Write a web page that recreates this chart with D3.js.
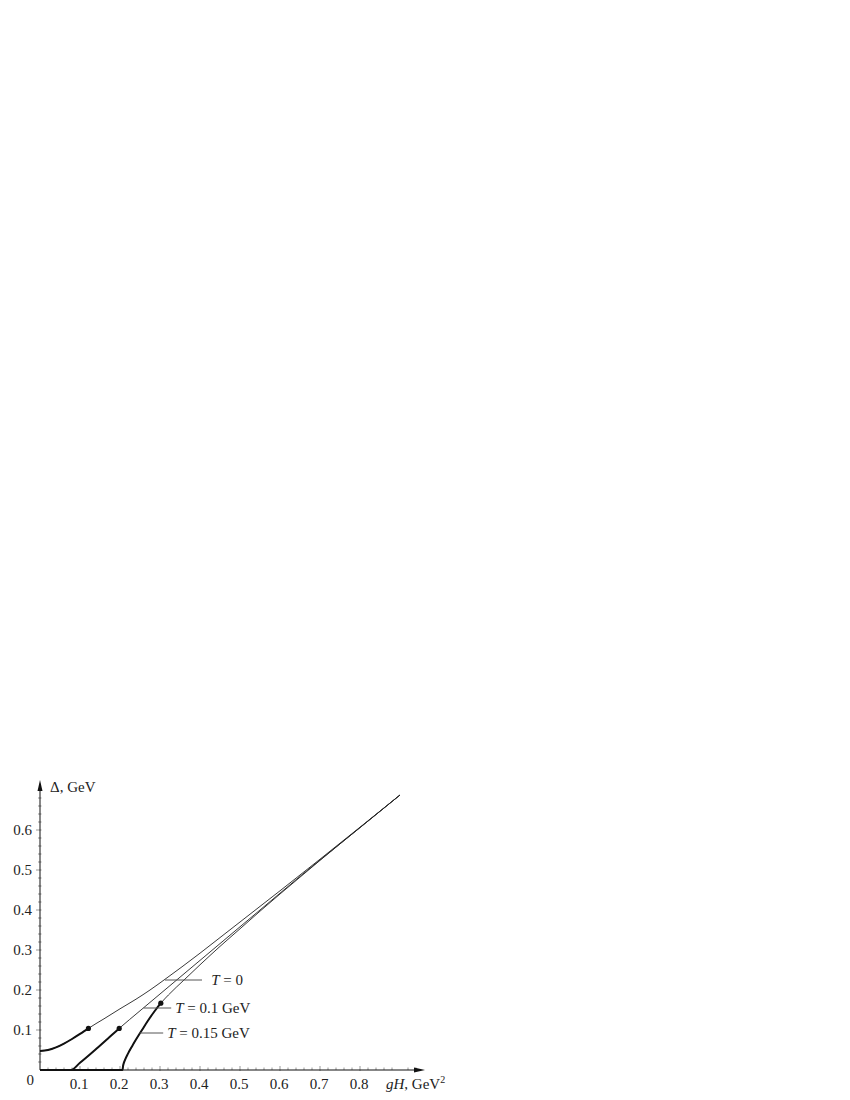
<!DOCTYPE html>
<html>
<head>
<meta charset="utf-8">
<script src="https://cdn.jsdelivr.net/npm/d3@7"></script>
<style>
  body { margin: 0; background: #fff; }
  text { font-family: "Liberation Serif", "DejaVu Serif", serif; font-size: 15px; fill: #222; }
</style>
</head>
<body>
<div id="chart"></div>
<script>
// gH in GeV^2, Delta in GeV
const gH_T0    = [0, 0.02, 0.04, 0.06, 0.08, 0.10, 0.121, 0.14, 0.16, 0.20, 0.24, 0.275, 0.31, 0.40, 0.45, 0.50, 0.55, 0.60, 0.65, 0.70, 0.80, 0.90];
const delta_T0 = [0.0475, 0.0499, 0.0565, 0.0661, 0.0775, 0.0901, 0.104, 0.116, 0.128, 0.153, 0.177, 0.200, 0.225, 0.292, 0.331, 0.370, 0.409, 0.448, 0.4875, 0.527, 0.607, 0.6875];

const gH_T01    = [0, 0.0775, 0.10, 0.1375, 0.17, 0.198, 0.25, 0.30, 0.35, 0.40, 0.45, 0.50, 0.55, 0.60, 0.65, 0.70, 0.80, 0.90];
const delta_T01 = [0, 0, 0.018, 0.050, 0.079, 0.104, 0.148, 0.190, 0.232, 0.274, 0.316, 0.358, 0.400, 0.442, 0.484, 0.525, 0.606, 0.6875];

const gH_T015    = [0, 0.206, 0.208, 0.212, 0.22, 0.23, 0.24, 0.255, 0.271, 0.285, 0.302, 0.321, 0.36, 0.40, 0.45, 0.50, 0.55, 0.60, 0.65, 0.70, 0.80, 0.90];
const delta_T015 = [0, 0, 0.012, 0.024, 0.041, 0.059, 0.076, 0.100, 0.125, 0.145, 0.167, 0.1875, 0.225, 0.263, 0.309, 0.353, 0.397, 0.440, 0.482, 0.524, 0.606, 0.6875];

// points where curves switch from bold to thin (marked by dots)
const dotGH    = [0.121, 0.198, 0.302];
const dotDelta = [0.104, 0.104, 0.167];

const xTicks = [0.1, 0.2, 0.3, 0.4, 0.5, 0.6, 0.7, 0.8];
const yTicks = [0.1, 0.2, 0.3, 0.4, 0.5, 0.6];

// labels: leader start (gH, Delta), leader end gH, text start gH
const labelValues  = [" = 0", " = 0.1 GeV", " = 0.15 GeV"];
const labelStartGH = [0.3125, 0.259, 0.249];
const labelDelta   = [0.225, 0.155, 0.0925];
const labelEndGH   = [0.405, 0.328, 0.308];
const labelTextGH  = [0.428, 0.338, 0.318];

const width = 850;
const height = 1100;

const svg = d3.select('#chart')
  .append('svg')
  .attr('width', width)
  .attr('height', height);

const x = d3.scaleLinear().domain([0, 1]).range([40, 440]);
const y = d3.scaleLinear().domain([0, 1]).range([1070, 670]);

const xMax = 0.9625;
const yMax = 0.725;

// minor ticks every 0.02
const notMajor = v => Math.abs(v * 10 - Math.round(v * 10)) > 1e-6;
const xMinor = d3.range(0.02, 0.95, 0.02).filter(notMajor);
const yMinor = d3.range(0.02, 0.71, 0.02).filter(notMajor);

svg.append('g')
  .selectAll('line')
  .data(xMinor)
  .enter()
  .append('line')
  .attr('x1', d => x(d)).attr('x2', d => x(d))
  .attr('y1', y(0) - 2.5).attr('y2', y(0))
  .attr('stroke', '#999').attr('stroke-width', 1);

svg.append('g')
  .selectAll('line')
  .data(xTicks)
  .enter()
  .append('line')
  .attr('x1', d => x(d)).attr('x2', d => x(d))
  .attr('y1', y(0) - 4).attr('y2', y(0) + 1)
  .attr('stroke', '#999').attr('stroke-width', 1);

svg.append('g')
  .selectAll('line')
  .data(yMinor)
  .enter()
  .append('line')
  .attr('x1', x(0) - 2).attr('x2', x(0) + 1.5)
  .attr('y1', d => y(d)).attr('y2', d => y(d))
  .attr('stroke', '#999').attr('stroke-width', 1);

svg.append('g')
  .selectAll('line')
  .data(yTicks)
  .enter()
  .append('line')
  .attr('x1', x(0) - 4).attr('x2', x(0) + 1.5)
  .attr('y1', d => y(d)).attr('y2', d => y(d))
  .attr('stroke', '#999').attr('stroke-width', 1);

// axis lines with arrows
svg.append('line')
  .attr('x1', x(0)).attr('x2', x(xMax) - 6)
  .attr('y1', y(0)).attr('y2', y(0))
  .attr('stroke', '#111').attr('stroke-width', 1);
svg.append('path')
  .attr('d', `M${x(xMax)},${y(0)} L${x(xMax) - 11},${y(0) - 2.5} L${x(xMax) - 11},${y(0) + 2.5} Z`)
  .attr('fill', '#111');

svg.append('line')
  .attr('x1', x(0)).attr('x2', x(0))
  .attr('y1', y(0)).attr('y2', y(yMax) + 6)
  .attr('stroke', '#111').attr('stroke-width', 1);
svg.append('path')
  .attr('d', `M${x(0)},${y(yMax)} L${x(0) - 2.5},${y(yMax) + 11} L${x(0) + 2.5},${y(yMax) + 11} Z`)
  .attr('fill', '#111');

// tick labels
svg.append('g')
  .selectAll('text')
  .data(xTicks)
  .enter()
  .append('text')
  .attr('x', d => x(d) - 1)
  .attr('y', y(0) + 19)
  .attr('text-anchor', 'middle')
  .text(d => d3.format('.1f')(d));

svg.append('g')
  .selectAll('text')
  .data(yTicks)
  .enter()
  .append('text')
  .attr('x', x(0) - 8)
  .attr('y', d => y(d) + 5)
  .attr('text-anchor', 'end')
  .text(d => d3.format('.1f')(d));

svg.append('text')
  .attr('x', x(0) - 6)
  .attr('y', y(0) + 15)
  .attr('text-anchor', 'end')
  .text('0');

// axis titles
svg.append('text')
  .attr('x', x(0) + 10)
  .attr('y', y(yMax) + 12)
  .text('Δ, GeV');

const xTitle = svg.append('text')
  .attr('x', x(0.865))
  .attr('y', y(0) + 19);
xTitle.append('tspan').style('font-style', 'italic').text('gH');
xTitle.append('tspan').text(', GeV');
xTitle.append('tspan').attr('dy', -6).style('font-size', '10px').text('2');

// curves
const curves = [
  { gh: gH_T0, d: delta_T0 },
  { gh: gH_T01, d: delta_T01 },
  { gh: gH_T015, d: delta_T015 }
];

const line = d3.line()
  .x(p => x(p[0]))
  .y(p => y(p[1]))
  .curve(d3.curveMonotoneX);

const defs = svg.append('defs');

curves.forEach((c, i) => {
  const pts = c.gh.map((g, j) => [g, c.d[j]]);

  svg.append('path')
    .attr('d', line(pts))
    .attr('fill', 'none')
    .attr('stroke', '#222')
    .attr('stroke-width', 0.9);

  defs.append('clipPath')
    .attr('id', 'bold' + i)
    .append('rect')
    .attr('x', x(0) - 5)
    .attr('y', 0)
    .attr('width', x(dotGH[i]) - x(0) + 5)
    .attr('height', height);

  svg.append('path')
    .attr('d', line(pts))
    .attr('clip-path', `url(#bold${i})`)
    .attr('fill', 'none')
    .attr('stroke', '#111')
    .attr('stroke-width', 2);
});

svg.append('g')
  .selectAll('circle')
  .data(dotGH)
  .enter()
  .append('circle')
  .attr('cx', d => x(d))
  .attr('cy', (d, i) => y(dotDelta[i]))
  .attr('r', 2.6)
  .attr('fill', '#111');

// labels with leader lines
labelValues.forEach((v, i) => {
  svg.append('line')
    .attr('x1', x(labelStartGH[i])).attr('x2', x(labelEndGH[i]))
    .attr('y1', y(labelDelta[i])).attr('y2', y(labelDelta[i]))
    .attr('stroke', '#555').attr('stroke-width', 1);

  const t = svg.append('text')
    .attr('x', x(labelTextGH[i]))
    .attr('y', y(labelDelta[i]) + 5);
  t.append('tspan').style('font-style', 'italic').text('T');
  t.append('tspan').text(v);
});
</script>
</body>
</html>
